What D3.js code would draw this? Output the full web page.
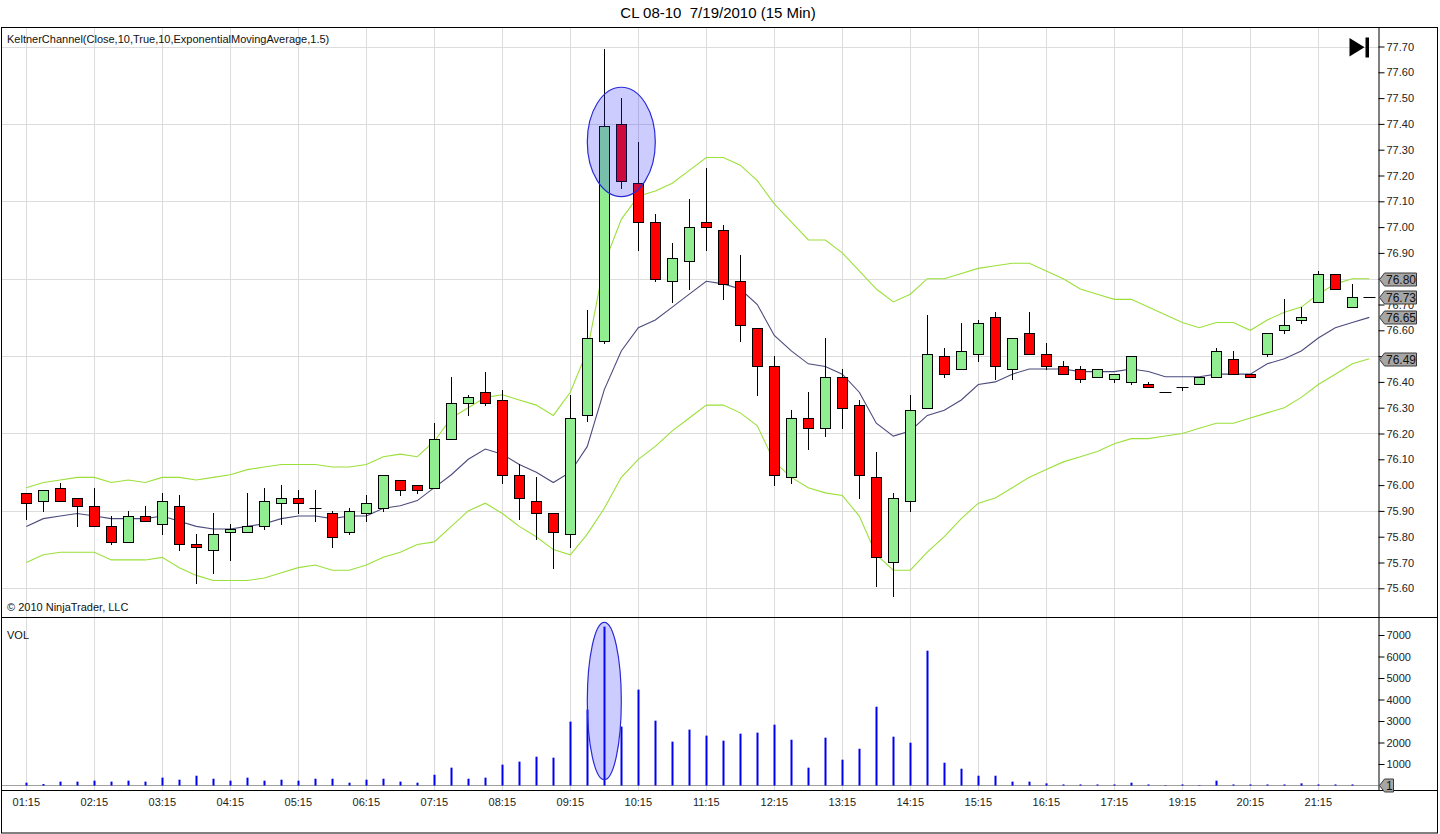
<!DOCTYPE html>
<html><head><meta charset="utf-8">
<script src="https://cdn.jsdelivr.net/npm/d3@7"></script>
<style>
html,body{margin:0;padding:0;background:#fff;}
svg text{font-family:"Liberation Sans",Arial,sans-serif;}
</style></head>
<body><svg id="c" width="1440" height="834"></svg>
<script>
// ---------------- DATA ----------------
const timeLabels = ["01:15","02:15","03:15","04:15","05:15","06:15","07:15","08:15","09:15","10:15","11:15","12:15","13:15","14:15","15:15","16:15","17:15","19:15","20:15","21:15"];
const labelEvery = 4;
const open  = [75.97,75.94,75.99,75.95,75.92,75.84,75.78,75.88,75.85,75.92,75.77,75.75,75.82,75.82,75.84,75.93,75.95,75.91,75.89,75.82,
               75.89,75.91,76.02,76.00,75.99,76.18,76.32,76.36,76.33,76.04,75.94,75.89,75.81,76.27,76.56,77.40,77.17,77.02,76.79,76.87,
               77.02,76.99,76.79,76.61,76.46,76.03,76.26,76.22,76.42,76.31,76.03,75.70,75.94,76.30,76.50,76.45,76.51,76.65,76.45,76.59,
               76.51,76.46,76.45,76.42,76.41,76.40,76.39,76.36,76.38,76.39,76.42,76.49,76.43,76.51,76.60,76.64,76.71,76.82,76.69,76.73];
const high  = [75.97,75.98,76.01,75.95,75.99,75.88,75.90,75.92,75.97,75.96,75.81,75.89,75.85,75.97,75.99,76.00,75.98,75.98,75.90,75.91,
               75.96,76.04,76.02,76.00,76.24,76.42,76.35,76.44,76.37,76.08,76.03,75.89,76.35,76.68,77.69,77.50,77.33,77.05,76.94,77.11,
               77.23,77.01,76.89,76.61,76.50,76.29,76.36,76.57,76.45,76.33,76.13,75.97,76.35,76.66,76.53,76.63,76.64,76.67,76.57,76.67,
               76.55,76.48,76.46,76.45,76.43,76.50,76.40,76.36,76.38,76.42,76.53,76.52,76.43,76.59,76.72,76.69,76.83,76.82,76.78,76.73];
const low   = [75.87,75.90,75.94,75.84,75.84,75.77,75.78,75.86,75.81,75.75,75.62,75.66,75.71,75.82,75.83,75.85,75.89,75.86,75.76,75.81,
               75.86,75.90,75.96,75.97,75.99,76.18,76.27,76.31,76.01,75.87,75.79,75.68,75.76,76.25,76.55,77.15,76.91,76.79,76.71,76.76,
               76.91,76.72,76.56,76.35,76.00,76.01,76.14,76.19,76.22,75.95,75.61,75.57,75.90,76.30,76.42,76.45,76.48,76.41,76.41,76.51,
               76.45,76.43,76.40,76.42,76.40,76.39,76.38,76.36,76.37,76.39,76.42,76.43,76.42,76.50,76.59,76.63,76.71,76.76,76.69,76.73];
const close = [75.93,75.98,75.94,75.92,75.84,75.78,75.88,75.86,75.94,75.77,75.76,75.81,75.83,75.84,75.94,75.95,75.93,75.91,75.80,75.90,
               75.93,76.04,75.98,75.98,76.18,76.32,76.34,76.32,76.04,75.95,75.89,75.82,76.26,76.57,77.39,77.18,77.02,76.80,76.88,77.00,
               77.00,76.78,76.62,76.46,76.04,76.26,76.22,76.42,76.30,76.04,75.72,75.95,76.29,76.51,76.43,76.52,76.63,76.46,76.57,76.51,
               76.46,76.43,76.41,76.45,76.43,76.50,76.38,76.36,76.38,76.42,76.52,76.43,76.42,76.59,76.62,76.65,76.82,76.76,76.73,76.73];
const volume = [130,70,180,180,225,180,225,180,365,270,455,315,225,365,225,270,225,315,315,130,
                270,315,180,130,500,830,315,365,970,1110,1340,1295,2970,3530,7390,2740,4460,3015,2040,2600,
                2320,2085,2410,2460,2830,2130,830,2225,1200,1710,3665,2270,1990,6270,1060,780,455,455,180,180,
                100,50,50,50,50,130,50,20,50,20,225,50,50,50,50,100,50,50,50,1];
const kcUpper = [75.99,76.01,76.02,76.03,76.03,76.01,76.02,76.01,76.03,76.03,76.02,76.03,76.04,76.06,76.07,76.08,76.08,76.08,76.07,76.07,
                 76.08,76.11,76.12,76.11,76.17,76.26,76.30,76.34,76.35,76.33,76.31,76.27,76.36,76.52,76.86,77.03,77.12,77.14,77.17,77.22,
                 77.27,77.27,77.24,77.18,77.09,77.02,76.95,76.95,76.90,76.83,76.76,76.71,76.74,76.80,76.80,76.82,76.84,76.85,76.86,76.86,
                 76.83,76.80,76.76,76.74,76.72,76.72,76.69,76.66,76.63,76.61,76.63,76.63,76.60,76.64,76.67,76.69,76.74,76.78,76.80,76.80];
const kcMid   = [75.84,75.87,75.88,75.89,75.88,75.87,75.87,75.87,75.88,75.86,75.84,75.83,75.83,75.84,75.85,75.87,75.88,75.88,75.87,75.88,
                 75.88,75.91,75.92,75.94,75.99,76.04,76.10,76.14,76.12,76.08,76.05,76.01,76.05,76.15,76.37,76.52,76.61,76.64,76.69,76.74,
                 76.79,76.78,76.76,76.70,76.58,76.52,76.47,76.46,76.43,76.36,76.24,76.19,76.21,76.27,76.29,76.33,76.39,76.40,76.43,76.45,
                 76.45,76.45,76.44,76.44,76.44,76.45,76.44,76.42,76.42,76.42,76.43,76.43,76.43,76.47,76.49,76.52,76.57,76.61,76.63,76.65];
const kcLower = [75.70,75.73,75.74,75.74,75.74,75.71,75.71,75.71,75.72,75.68,75.65,75.63,75.63,75.63,75.64,75.66,75.68,75.69,75.67,75.67,
                 75.69,75.72,75.74,75.77,75.78,75.84,75.90,75.93,75.89,75.84,75.80,75.75,75.73,75.81,75.91,76.03,76.10,76.15,76.21,76.26,
                 76.31,76.31,76.28,76.23,76.09,76.03,75.99,75.97,75.96,75.88,75.73,75.67,75.67,75.74,75.80,75.87,75.93,75.95,75.99,76.03,
                 76.06,76.09,76.11,76.13,76.16,76.18,76.18,76.19,76.20,76.22,76.24,76.24,76.26,76.28,76.30,76.34,76.39,76.43,76.47,76.49];
const priceTicks = d3.range(0, 22).map(k => +(75.60 + k * 0.10).toFixed(2));
const priceGrid  = [75.60, 75.90, 76.20, 76.50, 76.80, 77.10, 77.40, 77.70];
const volTicks   = [1000, 2000, 3000, 4000, 5000, 6000, 7000];
// highlight ellipses: [centre bar index, centre value, half-width in bars, half-height in value units]
const priceEllipse = [35, 77.33, 2, 0.212];
const volEllipse   = [34, 3930, 1, 3660];
const titleText  = "CL 08-10  7/19/2010 (15 Min)";
const indicatorText = "KeltnerChannel(Close,10,True,10,ExponentialMovingAverage,1.5)";

// ---------------- LAYOUT ----------------
const svg = d3.select("#c");
const L = 1.5, R = 1437.5, T = 27.5, B = 833, AX = 1378.5, DIV = 617.5, XAX = 790.5;
const n = close.length;
const x = d3.scaleLinear().domain([0, n - 1]).range([26.3, 26.3 + 17 * (n - 1)]);
const y = d3.scaleLinear().domain([75.60, 77.70]).range([588.3, 46.5]);
const yv = d3.scaleLinear().domain([0, 7000]).range([785.5, 635]);
const font = "Liberation Sans, Arial, sans-serif";

svg.append("rect").attr("width", 1440).attr("height", 834).attr("fill", "#fff");

// title
svg.append("text").attr("x", 718).attr("y", 18).attr("text-anchor", "middle")
  .attr("font-size", 15).attr("fill", "#000").style("white-space", "pre").text(titleText);

// grid
const gGrid = svg.append("g").attr("stroke", "#dcdcdc").attr("stroke-width", 1);
priceGrid.forEach(v => {
  const yy = Math.round(y(v)) + 0.5;
  gGrid.append("line").attr("x1", L).attr("x2", AX).attr("y1", yy).attr("y2", yy);
});
timeLabels.forEach((t, k) => {
  const xx = Math.round(x(k * labelEvery)) + 0.5;
  gGrid.append("line").attr("x1", xx).attr("x2", xx).attr("y1", T).attr("y2", DIV);
  gGrid.append("line").attr("x1", xx).attr("x2", xx).attr("y1", DIV).attr("y2", XAX);
});

// Keltner lines
const idx = d3.range(n);
const mk = arr => d3.line().x(i => x(i)).y(i => y(arr[i]))(idx);
svg.append("path").attr("d", mk(kcUpper)).attr("fill", "none").attr("stroke", "#9be03a").attr("stroke-width", 1.1);
svg.append("path").attr("d", mk(kcLower)).attr("fill", "none").attr("stroke", "#9be03a").attr("stroke-width", 1.1);
svg.append("path").attr("d", mk(kcMid)).attr("fill", "none").attr("stroke", "#4b4b7d").attr("stroke-width", 1.1);

// candles
const gC = svg.append("g");
idx.forEach(i => {
  const cx = Math.round(x(i)) + 0.5;
  gC.append("line").attr("x1", cx).attr("x2", cx)
    .attr("y1", Math.round(y(high[i]))).attr("y2", Math.round(y(low[i])) + 1)
    .attr("stroke", "#000").attr("stroke-width", 1);
  const o = open[i], c = close[i];
  const top = Math.round(y(Math.max(o, c))), bot = Math.round(y(Math.min(o, c)));
  if (bot - top < 1) {
    gC.append("line").attr("x1", cx - 6).attr("x2", cx + 6).attr("y1", top + 0.5).attr("y2", top + 0.5)
      .attr("stroke", "#000").attr("stroke-width", 1);
  } else {
    gC.append("rect").attr("x", cx - 5).attr("y", top + 0.5).attr("width", 10).attr("height", bot - top)
      .attr("fill", c > o ? "#90ee90" : "#ff0000").attr("stroke", "#000").attr("stroke-width", 1);
  }
});

// price highlight ellipse
svg.append("ellipse")
  .attr("cx", x(priceEllipse[0])).attr("cy", y(priceEllipse[1]))
  .attr("rx", x(priceEllipse[2]) - x(0)).attr("ry", y(75.60) - y(75.60 + priceEllipse[3]))
  .attr("fill", "rgba(40,40,255,0.24)").attr("stroke", "#2a2ad8").attr("stroke-width", 1.2);

// volume bars
const gV = svg.append("g");
gV.append("line").attr("x1", L).attr("x2", AX).attr("y1", 785.5).attr("y2", 785.5).attr("stroke", "#a0a0a0");
idx.forEach(i => {
  const top = yv(volume[i]);
  gV.append("rect").attr("x", Math.round(x(i)) - 0.5).attr("y", top).attr("width", 2)
    .attr("height", Math.max(0, yv(0) - top)).attr("fill", "#0000f0");
});
svg.append("ellipse")
  .attr("cx", x(volEllipse[0])).attr("cy", yv(volEllipse[1]))
  .attr("rx", x(volEllipse[2]) - x(0)).attr("ry", yv(0) - yv(volEllipse[3]))
  .attr("fill", "rgba(40,40,255,0.24)").attr("stroke", "#2a2ad8").attr("stroke-width", 1.2);

// frame
const gF = svg.append("g").attr("stroke", "#000").attr("stroke-width", 1).attr("fill", "none");
gF.append("rect").attr("x", L).attr("y", T).attr("width", R - L).attr("height", B - T);
gF.append("line").attr("x1", L).attr("x2", R).attr("y1", DIV).attr("y2", DIV);
gF.append("line").attr("x1", L).attr("x2", R).attr("y1", XAX).attr("y2", XAX);

// last-value markers (values taken from the series' last points)
const markerVals = [kcUpper[n - 1], close[n - 1], kcMid[n - 1], kcLower[n - 1]];
// axis labels that sit fully under a marker box are hidden, as in the reference
const hiddenTicks = priceTicks.filter(t => markerVals.some(m => Math.abs(m - t) < 0.015));

// price axis
const pa = svg.append("g").attr("transform", `translate(${AX},0)`)
  .call(d3.axisRight(y).tickValues(priceTicks).tickFormat(d3.format(".2f")).tickSize(6).tickPadding(2));
pa.select(".domain").attr("d", `M0.5,${T}V${XAX}`).attr("stroke", "#000");
pa.selectAll(".tick line").attr("stroke", "#000");
pa.selectAll("text").attr("font-family", font).attr("font-size", 11).attr("fill", "#222");
pa.selectAll(".tick").filter(d => hiddenTicks.includes(d)).select("text").remove();

// volume axis
const va = svg.append("g").attr("transform", `translate(${AX},0)`)
  .call(d3.axisRight(yv).tickValues(volTicks).tickFormat(d3.format("d")).tickSize(6).tickPadding(2));
va.select(".domain").remove();
va.selectAll(".tick line").attr("stroke", "#000");
va.selectAll("text").attr("font-family", font).attr("font-size", 11).attr("fill", "#222");

// time axis labels
const ta = svg.append("g");
timeLabels.forEach((t, k) => {
  ta.append("text").attr("x", x(k * labelEvery)).attr("y", 806).attr("text-anchor", "middle")
    .attr("font-size", 11).attr("fill", "#222").text(t);
});

function marker(yy, txt, w) {
  const g = svg.append("g");
  g.append("path").attr("d", `M${AX + 1},${yy} L${AX + 6},${yy - 6.5} L${AX + 6 + w},${yy - 6.5} L${AX + 6 + w},${yy + 6.5} L${AX + 6},${yy + 6.5} Z`)
    .attr("fill", "#a6a6a6").attr("stroke", "#3a3a3a").attr("stroke-width", 1);
  g.append("text").attr("x", AX + 7.5).attr("y", yy + 4.5).attr("font-size", 12).attr("fill", "#111").text(txt);
}
const fmt = d3.format(".2f");
markerVals.forEach(v => marker(Math.round(y(v)) + 0.5, fmt(v), 32));
marker(Math.round(yv(volume[n - 1])) + 0.5, String(volume[n - 1]), 9);

// labels in panels
svg.append("text").attr("x", 7).attr("y", 43).attr("font-size", 11).attr("fill", "#111").text(indicatorText);
svg.append("text").attr("x", 7).attr("y", 611).attr("font-size", 11).attr("fill", "#111").text("\u00a9 2010 NinjaTrader, LLC");
svg.append("text").attr("x", 7).attr("y", 639).attr("font-size", 11).attr("fill", "#111").text("VOL");

// go-to-end icon
svg.append("path").attr("d", "M1349.5,38 L1364.5,47.2 L1349.5,56.5 Z").attr("fill", "#000");
svg.append("rect").attr("x", 1365.5).attr("y", 37.5).attr("width", 3.5).attr("height", 20).attr("fill", "#000");
</script></body></html>
